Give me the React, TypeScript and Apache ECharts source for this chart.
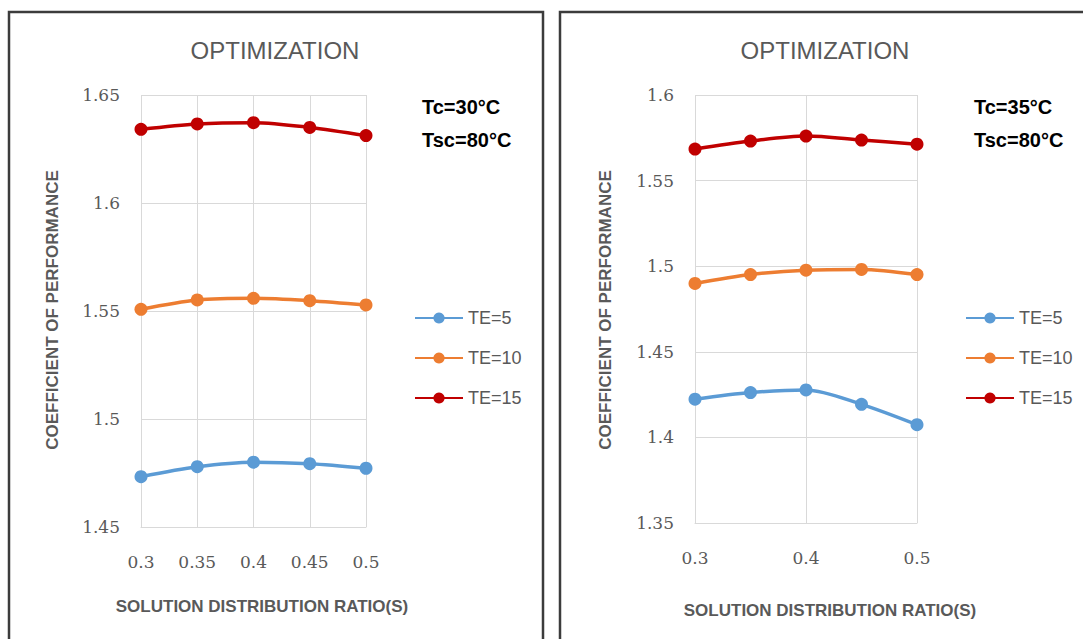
import React, { useEffect, useRef } from "react";
import * as echarts from "echarts";

const ratioCategories = ["0.3", "0.35", "0.4", "0.45", "0.5"];
const seriesNames = ["TE=5", "TE=10", "TE=15"];
const seriesColors = ["#5B9BD5", "#ED7D31", "#C00000"];

// Tc = 30°C, Tsc = 80°C
const left_TE5 = [1.4733, 1.4779, 1.48, 1.4793, 1.4772];
const left_TE10 = [1.5508, 1.5551, 1.5559, 1.5548, 1.5528];
const left_TE15 = [1.6341, 1.6366, 1.6372, 1.635, 1.6312];

// Tc = 35°C, Tsc = 80°C
const right_TE5 = [1.4223, 1.4262, 1.4277, 1.4193, 1.4074];
const right_TE10 = [1.4899, 1.4951, 1.4977, 1.4981, 1.4951];
const right_TE15 = [1.5684, 1.5731, 1.576, 1.5737, 1.5713];

const leftY = { min: 1.45, max: 1.65, interval: 0.05 };
const rightY = { min: 1.35, max: 1.6, interval: 0.05 };

const titleText = "OPTIMIZATION";
const yName = "COEFFICIENT OF PERFORMANCE";
const xName = "SOLUTION DISTRIBUTION RATIO(S)";
const leftNote = ["Tc=30°C", "Tsc=80°C"];
const rightNote = ["Tc=35°C", "Tsc=80°C"];

const GRAY = "#595959";
const GRID = "#d9d9d9";

export default function App() {
  const ref = useRef<HTMLDivElement>(null);

  useEffect(() => {
    if (!ref.current) return;
    const chart = echarts.init(ref.current, null, { renderer: "svg" });

    const leftData = [left_TE5, left_TE10, left_TE15];
    const rightData = [right_TE5, right_TE10, right_TE15];

    const mkX = (gridIndex: number, every: number) => ({
      type: "category",
      gridIndex,
      data: ratioCategories,
      boundaryGap: false,
      axisLine: { show: true, lineStyle: { color: GRID, width: 1 } },
      axisTick: { show: false },
      axisLabel: {
        interval: every,
        color: GRAY,
        fontSize: 17,
        fontFamily: "DejaVu Serif",
        margin: 26,
      },
      splitLine: { show: true, interval: every, lineStyle: { color: GRID, width: 1 } },
    });

    const mkY = (gridIndex: number, r: { min: number; max: number; interval: number }) => ({
      type: "value",
      gridIndex,
      min: r.min,
      max: r.max,
      interval: r.interval,
      axisLine: { show: false },
      axisTick: { show: false },
      axisLabel: {
        color: GRAY,
        fontSize: 17,
        fontFamily: "DejaVu Serif",
        margin: 21,
      },
      splitLine: { show: true, lineStyle: { color: GRID, width: 1 } },
    });

    const mkSeries = (data: number[][], axisIndex: number) =>
      data.map((d, i) => ({
        type: "line",
        name: seriesNames[i],
        xAxisIndex: axisIndex,
        yAxisIndex: axisIndex,
        data: d,
        smooth: 0.3,
        symbol: "circle",
        symbolSize: 13,
        lineStyle: { color: seriesColors[i], width: 3.5 },
        itemStyle: { color: seriesColors[i] },
        z: 3,
      }));

    const mkLegend = (left: number) => ({
      left,
      top: 309,
      padding: 0,
      orient: "vertical",
      itemGap: 22,
      itemWidth: 48,
      itemHeight: 14,
      selectedMode: false,
      data: seriesNames,
      textStyle: { color: GRAY, fontSize: 18, fontFamily: "Liberation Sans" },
    });

    const text = (
      x: number,
      y: number,
      t: string,
      font: string,
      fill: string,
      align: string,
      rotation = 0
    ) => ({
      type: "text",
      x,
      y,
      rotation,
      silent: true,
      style: { text: t, font, fill, align, verticalAlign: "middle" },
    });

    chart.setOption({
      animation: false,
      backgroundColor: "#ffffff",
      color: seriesColors,
      grid: [
        { left: 141, top: 95, width: 225, height: 432 },
        { left: 695, top: 95, width: 222, height: 428 },
      ],
      xAxis: [mkX(0, 0), mkX(1, 1)],
      yAxis: [mkY(0, leftY), mkY(1, rightY)],
      legend: [mkLegend(414), mkLegend(965)],
      series: [...mkSeries(leftData, 0), ...mkSeries(rightData, 1)],
      graphic: [
        {
          type: "rect",
          silent: true,
          shape: { x: 9, y: 12, width: 534, height: 720 },
          style: { fill: "none", stroke: "#3c3c3c", lineWidth: 2.5 },
        },
        {
          type: "rect",
          silent: true,
          shape: { x: 560, y: 12, width: 620, height: 720 },
          style: { fill: "none", stroke: "#3c3c3c", lineWidth: 2.5 },
        },
        text(275, 50, titleText, "24px 'Liberation Sans'", GRAY, "center"),
        text(825, 50, titleText, "24px 'Liberation Sans'", GRAY, "center"),
        text(422, 107, leftNote[0], "bold 20px 'Liberation Sans'", "#000000", "left"),
        text(422, 140, leftNote[1], "bold 20px 'Liberation Sans'", "#000000", "left"),
        text(974, 107, rightNote[0], "bold 20px 'Liberation Sans'", "#000000", "left"),
        text(974, 140, rightNote[1], "bold 20px 'Liberation Sans'", "#000000", "left"),
        text(52, 310, yName, "bold 17px 'Liberation Sans'", GRAY, "center", Math.PI / 2),
        text(605, 310, yName, "bold 17px 'Liberation Sans'", GRAY, "center", Math.PI / 2),
        text(262, 606, xName, "bold 17px 'Liberation Sans'", GRAY, "center"),
        text(830, 610, xName, "bold 17px 'Liberation Sans'", GRAY, "center"),
      ],
    });

    return () => chart.dispose();
  }, []);

  return (
    <div
      ref={ref}
      style={{ position: "absolute", left: 0, top: 0, width: 1083, height: 639 }}
    />
  );
}
